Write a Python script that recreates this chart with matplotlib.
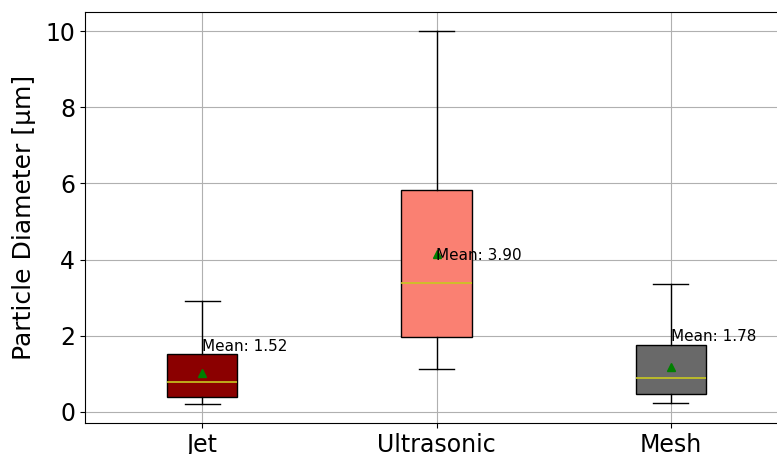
import matplotlib
matplotlib.use("Agg")
import matplotlib.pyplot as plt

labels = ["Jet", "Ultrasonic", "Mesh"]
whislo = [0.21, 1.13, 0.24]
q1 = [0.39, 1.97, 0.47]
med = [0.79, 3.39, 0.89]
q3 = [1.52, 5.83, 1.76]
whishi = [2.91, 10.0, 3.36]
means = [1.02, 4.15, 1.18]
mean_labels = [1.52, 3.90, 1.78]
colors = ["darkred", "salmon", "dimgray"]

stats = []
for i in range(len(labels)):
    stats.append({"label": labels[i], "whislo": whislo[i], "q1": q1[i], "med": med[i],
                  "q3": q3[i], "whishi": whishi[i], "mean": means[i], "fliers": []})

fig = plt.figure(figsize=(7.77, 4.54), dpi=100)
ax = fig.add_axes([85 / 777, 31 / 454, 703 / 777, 411 / 454])

bp = ax.bxp(stats, showmeans=True, patch_artist=True, widths=0.3,
            medianprops=dict(color="#c8c820", linewidth=1.2),
            meanprops=dict(marker="^", markerfacecolor="green", markeredgecolor="green", markersize=6))
for patch, c in zip(bp["boxes"], colors):
    patch.set_facecolor(c)

for i in range(len(labels)):
    ax.text(i + 1, mean_labels[i], "Mean: %.2f" % mean_labels[i], ha="left", va="bottom", fontsize=11)

ax.set_xlim(0.5, 3.5)
ax.set_ylim(-0.29, 10.5)
ax.grid(True)
ax.set_axisbelow(True)
ax.set_ylabel("Particle Diameter [µm]", fontsize=18, labelpad=7)
ax.tick_params(axis="both", labelsize=17)

fig.savefig("out.png", dpi=100)
